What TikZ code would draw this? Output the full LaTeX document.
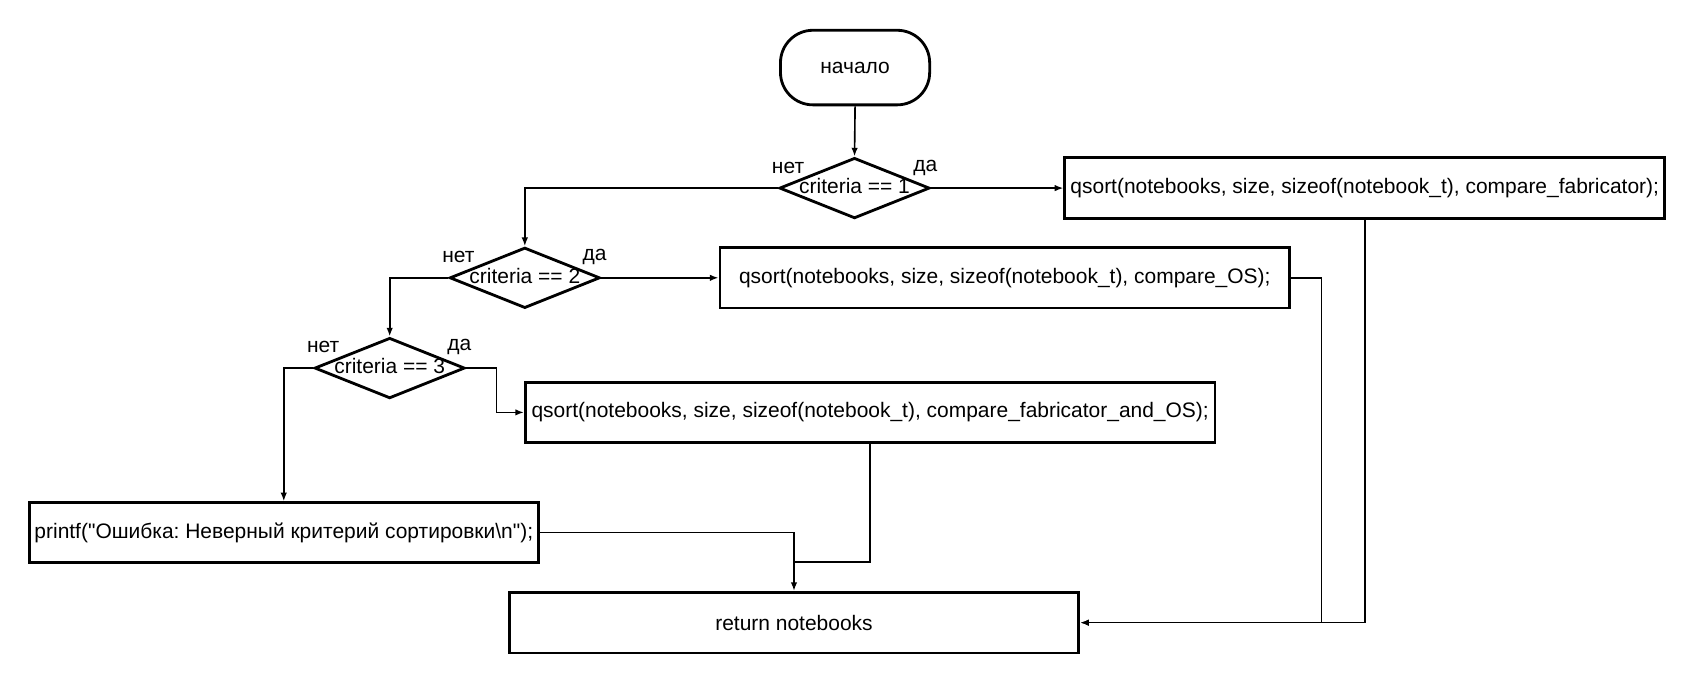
\documentclass[tikz,border=0pt]{standalone}
\usepackage{fontspec}
\setmainfont{Liberation Sans}[Ligatures=TeXOff]
\usetikzlibrary{shapes.geometric,arrows.meta}
\newcommand{\dq}{\char34\relax}
\begin{document}
\frenchspacing
\begin{tikzpicture}[x=1pt,y=-1pt,
  every node/.style={font=\fontsize{19.4}{23}\selectfont},
  blk/.style={draw,line width=2.6pt,rectangle,inner sep=0pt,minimum height=56pt},
  term/.style={draw,line width=2.6pt,rectangle,rounded corners=30pt,minimum width=138pt,minimum height=69pt,inner sep=0pt},
  dia/.style={draw,line width=2.6pt,diamond,minimum width=139pt,minimum height=56pt,inner sep=0pt},
  conn/.style={line width=1.5pt,-{Latex[length=8pt,width=6pt]}},
  plain/.style={line width=1.5pt},
  lab/.style={inner sep=0pt}
]
\useasboundingbox (0,0) rectangle (1568,632);

\node[term] (s) at (791,62.5) {начало};

\node[dia] (d1) at (790.5,174) {};
\node[lab] (d1t) at (790.5,172) {criteria == 1};
\node[lab] (d1n) at (729,155) {нет};
\node[lab] (d1y) at (856,155) {да};

\node[dia] (d2) at (485.5,257) {};
\node[lab] (d2t) at (485.5,255) {criteria == 2};
\node[lab] (d2n) at (424,238) {нет};
\node[lab] (d2y) at (550,238) {да};

\node[dia] (d3) at (360.5,340.5) {};
\node[lab] (d3t) at (360.5,338.5) {criteria == 3};
\node[lab] (d3n) at (299,321) {нет};
\node[lab] (d3y) at (425,321) {да};

\node[blk,minimum width=555pt] (q1) at (1262.5,174) {qsort(notebooks, size, sizeof(notebook\_t), compare\_fabricator);};
\node[blk,minimum width=527pt] (q2) at (929.5,257) {qsort(notebooks, size, sizeof(notebook\_t), compare\_OS);};
\node[blk,minimum width=638pt,minimum height=55pt] (q3) at (805,381.5) {qsort(notebooks, size, sizeof(notebook\_t), compare\_fabricator\_and\_OS);};
\node[blk,minimum width=471pt,minimum height=55pt] (pr) at (262.5,492.5) {printf(\dq Ошибка: Неверный критерий сортировки\textbackslash n\dq);};
\node[blk,minimum width=527pt] (ret) at (734.5,576) {return notebooks};

\coordinate (j) at (734.5,520);

\draw[conn] (s.south) -- (d1.north);
\draw[conn] (d1.east) -- (q1.west);
\draw[conn] (d1.west) -| (d2.north);
\draw[conn] (d2.east) -- (q2.west);
\draw[conn] (d2.west) -| (d3.north);
\draw[conn] (d3.east) -- ++(28,0) |- (q3.west);
\draw[conn] (d3.west) -| (pr.north);
\draw[conn] (pr.east) -| (ret.north);
\draw[plain] (q3.south) |- (j);
\draw[conn] (q2.east) -- ++(28,0) |- (ret.east);
\draw[conn] (q1.south) |- (ret.east);
\end{tikzpicture}
\end{document}
